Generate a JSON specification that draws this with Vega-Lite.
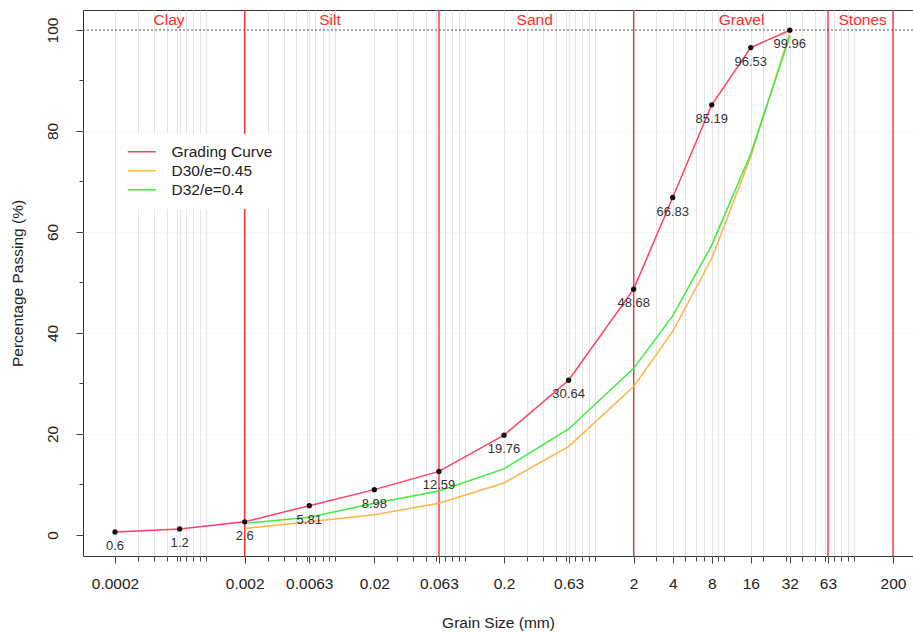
{
  "$schema": "https://vega.github.io/schema/vega-lite/v6.json",
  "autosize": {"type": "none"},
  "padding": {"left": 83, "top": 10, "right": 0, "bottom": 76},
  "width": 830,
  "height": 546,
  "background": "white",
  "config": {
    "font": "Liberation Sans",
    "view": {"stroke": "#333", "strokeWidth": 1}
  },
  "datasets": {
    "bounds": [{"size": 0.002}, {"size": 0.063}, {"size": 2}, {"size": 63}, {"size": 200}],
    "top": [{"pass": 100}],
    "zones": [
      {"zone": "Clay", "size": 0.000522, "pass": 102},
      {"zone": "Silt", "size": 0.0091, "pass": 102},
      {"zone": "Sand", "size": 0.345, "pass": 102},
      {"zone": "Gravel", "size": 13.6, "pass": 102},
      {"zone": "Stones", "size": 116.7, "pass": 102}
    ],
    "curves": [
      {"series": "Grading Curve", "size": 0.0002, "pass": 0.6},
      {"series": "Grading Curve", "size": 0.00063, "pass": 1.2},
      {"series": "Grading Curve", "size": 0.002, "pass": 2.6},
      {"series": "Grading Curve", "size": 0.0063, "pass": 5.81},
      {"series": "Grading Curve", "size": 0.02, "pass": 8.98},
      {"series": "Grading Curve", "size": 0.063, "pass": 12.59},
      {"series": "Grading Curve", "size": 0.2, "pass": 19.76},
      {"series": "Grading Curve", "size": 0.63, "pass": 30.64},
      {"series": "Grading Curve", "size": 2, "pass": 48.68},
      {"series": "Grading Curve", "size": 4, "pass": 66.83},
      {"series": "Grading Curve", "size": 8, "pass": 85.19},
      {"series": "Grading Curve", "size": 16, "pass": 96.53},
      {"series": "Grading Curve", "size": 32, "pass": 99.96},
      {"series": "D30/e=0.45", "size": 0.002, "pass": 1.3},
      {"series": "D30/e=0.45", "size": 0.0063, "pass": 2.6},
      {"series": "D30/e=0.45", "size": 0.02, "pass": 4.0},
      {"series": "D30/e=0.45", "size": 0.063, "pass": 6.3},
      {"series": "D30/e=0.45", "size": 0.2, "pass": 10.3},
      {"series": "D30/e=0.45", "size": 0.63, "pass": 17.5},
      {"series": "D30/e=0.45", "size": 2, "pass": 29.4},
      {"series": "D30/e=0.45", "size": 4, "pass": 40.3},
      {"series": "D30/e=0.45", "size": 8, "pass": 54.8},
      {"series": "D30/e=0.45", "size": 16, "pass": 74.9},
      {"series": "D30/e=0.45", "size": 32, "pass": 99.4},
      {"series": "D32/e=0.4", "size": 0.002, "pass": 2.3},
      {"series": "D32/e=0.4", "size": 0.0063, "pass": 3.5},
      {"series": "D32/e=0.4", "size": 0.02, "pass": 6.3},
      {"series": "D32/e=0.4", "size": 0.063, "pass": 8.7},
      {"series": "D32/e=0.4", "size": 0.2, "pass": 13.1},
      {"series": "D32/e=0.4", "size": 0.63, "pass": 21.0},
      {"series": "D32/e=0.4", "size": 2, "pass": 33.0},
      {"series": "D32/e=0.4", "size": 4, "pass": 43.4},
      {"series": "D32/e=0.4", "size": 8, "pass": 57.4},
      {"series": "D32/e=0.4", "size": 16, "pass": 75.5},
      {"series": "D32/e=0.4", "size": 32, "pass": 98.8}
    ]
  },
  "layer": [
    {
      "data": {"name": "bounds"},
      "mark": {"type": "rule", "color": "#FF2A2A", "strokeWidth": 1.3},
      "encoding": {
        "x": {
          "field": "size",
          "type": "quantitative",
          "scale": {"type": "log", "domain": [0.0001133, 285.3], "nice": false},
          "axis": {
            "title": "Grain Size (mm)",
            "values": [0.0002, 0.0003, 0.0004, 0.0005, 0.0006, 0.00063, 0.0007, 0.0008, 0.0009,
                       0.001, 0.002, 0.003, 0.004, 0.005, 0.006, 0.0063, 0.007, 0.008, 0.009,
                       0.01, 0.02, 0.03, 0.04, 0.05, 0.06, 0.063, 0.07, 0.08, 0.09,
                       0.1, 0.2, 0.3, 0.4, 0.5, 0.6, 0.63, 0.7, 0.8, 0.9,
                       1, 2, 3, 4, 5, 6, 7, 8, 9,
                       10, 16, 20, 30, 32, 40, 50, 60, 63, 70, 80, 90, 100, 200],
            "labelExpr": "indexof([0.0002,0.002,0.0063,0.02,0.063,0.2,0.63,2,4,8,16,32,63,200], datum.value) >= 0 ? format(datum.value, '~g') : ''",
            "tickSize": {"condition": {"test": "indexof([0.0002,0.002,0.0063,0.02,0.063,0.2,0.63,2,4,8,16,32,63,200], datum.value) >= 0", "value": 7}, "value": 5},
            "grid": true,
            "gridColor": "#e4e4e4",
            "gridWidth": 1,
            "domain": false,
            "tickColor": "#444",
            "labelFontSize": 15.5,
            "labelColor": "#222",
            "labelPadding": 13,
            "labelOverlap": false,
            "labelFlush": false,
            "titleFontSize": 15.5,
            "titleFontWeight": "normal",
            "titleColor": "#222",
            "titlePadding": 24
          }
        }
      }
    },
    {
      "data": {"name": "top"},
      "mark": {"type": "rule", "color": "#555", "strokeDash": [2, 2], "strokeWidth": 1},
      "encoding": {
        "y": {"field": "pass", "type": "quantitative"}
      }
    },
    {
      "data": {"name": "zones"},
      "mark": {"type": "text", "color": "#FF2A2A", "fontSize": 15.5, "align": "center", "baseline": "middle"},
      "encoding": {
        "x": {"field": "size", "type": "quantitative"},
        "y": {"field": "pass", "type": "quantitative"},
        "text": {"field": "zone"}
      }
    },
    {
      "data": {"name": "curves"},
      "mark": {"type": "line", "strokeWidth": 1.5, "interpolate": "linear"},
      "encoding": {
        "x": {"field": "size", "type": "quantitative"},
        "y": {
          "field": "pass",
          "type": "quantitative",
          "scale": {"domain": [-4.16, 103.96], "nice": false, "zero": false},
          "axis": {
            "title": "Percentage Passing (%)",
            "values": [0, 10, 20, 30, 40, 50, 60, 70, 80, 90, 100],
            "labelExpr": "datum.value % 20 == 0 ? datum.label : ''",
            "tickSize": {"condition": {"test": "datum.value % 20 == 0", "value": 7}, "value": 4},
            "labelAngle": -90,
            "labelAlign": "center",
            "labelBaseline": "alphabetic",
            "labelPadding": 19,
            "labelFontSize": 15.5,
            "labelColor": "#222",
            "tickColor": "#444",
            "domain": false,
            "grid": true,
            "gridColor": "#e2e2e2",
            "gridDash": [1, 3],
            "gridOpacity": {"condition": {"test": "datum.value % 20 == 0 && datum.value > 0 && datum.value < 100", "value": 1}, "value": 0},
            "titleFontSize": 15.5,
            "titleFontWeight": "normal",
            "titleColor": "#222",
            "titlePadding": 20
          }
        },
        "color": {
          "field": "series",
          "type": "nominal",
          "scale": {"domain": ["Grading Curve", "D30/e=0.45", "D32/e=0.4"], "range": ["#FF4060", "#FFB347", "#3DEB3D"]},
          "legend": {
            "orient": "none",
            "legendX": 41,
            "legendY": 124,
            "title": null,
            "symbolType": "M-3,0H3",
            "symbolSize": 87,
            "symbolStrokeWidth": 1.5,
            "labelFontSize": 15.5,
            "labelColor": "#222",
            "labelOffset": 22,
            "rowPadding": 2,
            "padding": 10,
            "fillColor": "white",
            "strokeColor": null
          }
        }
      }
    },
    {
      "data": {"name": "curves"},
      "transform": [{"filter": "datum.series === 'Grading Curve'"}],
      "mark": {"type": "point", "filled": true, "color": "#111", "size": 28, "opacity": 1},
      "encoding": {
        "x": {"field": "size", "type": "quantitative"},
        "y": {"field": "pass", "type": "quantitative"}
      }
    },
    {
      "data": {"name": "curves"},
      "transform": [{"filter": "datum.series === 'Grading Curve'"}],
      "mark": {"type": "text", "fontSize": 13, "color": "#333", "dy": 14, "align": "center", "baseline": "middle"},
      "encoding": {
        "x": {"field": "size", "type": "quantitative"},
        "y": {"field": "pass", "type": "quantitative"},
        "text": {"field": "pass", "type": "quantitative", "format": "~g"}
      }
    }
  ]
}
